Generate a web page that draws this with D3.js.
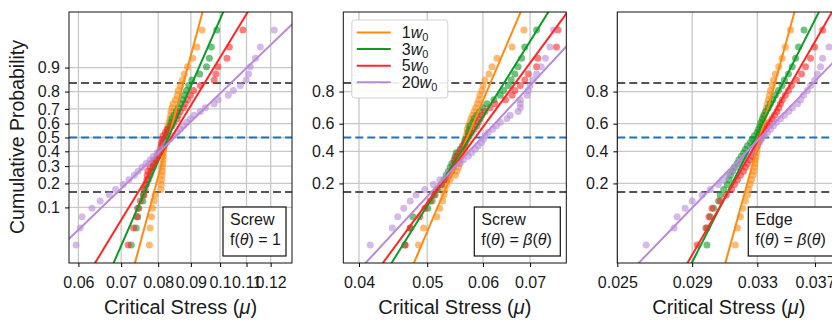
<!DOCTYPE html>
<html>
<head>
<meta charset="utf-8">
<script src="https://cdn.jsdelivr.net/npm/d3@7"></script>
<style>
  body { margin: 0; background: #fff; }
  svg { display: block; }
  text { font-family: "Liberation Sans", Arial, Helvetica, sans-serif; fill: #1a1a1a; }
</style>
</head>
<body>
<svg id="chart" width="832" height="320"></svg>
<script>
// Loop widths (multiples of w0) and their colours
const widthMultiples = ["1", "3", "5", "20"];
const seriesColors = ["#ff8a12", "#0d9a26", "#ff2626", "#b98ad9"];

// Probability ticks
const probTicksFull = [0.1, 0.2, 0.3, 0.4, 0.5, 0.6, 0.7, 0.8, 0.9];
const probTicksEven = [0.2, 0.4, 0.6, 0.8];

// Stress ticks for each panel
const screwFlatTicks = [0.06, 0.07, 0.08, 0.09, 0.10, 0.11, 0.12];
const screwFlatTickLabels = ["0.06", "0.07", "0.08", "0.09", "0.1", "0.11", "0.12"];
const screwBetaTicks = [0.04, 0.05, 0.06, 0.07];
const screwBetaTickLabels = ["0.04", "0.05", "0.06", "0.07"];
const edgeBetaTicks = [0.025, 0.029, 0.033, 0.037];
const edgeBetaTickLabels = ["0.025", "0.029", "0.033", "0.037"];

// Log-normal fits: median critical stress and log standard deviation per width
const screwFlatMedian = [0.0831, 0.0830, 0.0839, 0.0848];
const screwFlatSigma = [0.053, 0.0859, 0.1197, 0.2044];
const screwBetaMedian = [0.0570, 0.0575, 0.0585, 0.0598];
const screwBetaSigma = [0.0759, 0.1115, 0.1313, 0.1655];
const edgeBetaMedian = [0.03317, 0.03287, 0.03316, 0.0332];
const edgeBetaSigma = [0.0298, 0.0548, 0.0623, 0.1049];

// Sorted critical stresses, screw dislocation, f(theta) = 1
const screwFlat1w0 = [0.0775,0.0777,0.0781,0.0784,0.0788,0.0791,0.0808,0.0809,0.0810,0.0811,0.0812,0.0812,0.0813,0.0814,0.0815,0.0815,0.0816,0.0818,0.0820,0.0822,0.0823,0.0826,0.0828,0.0829,0.0832,0.0835,0.0837,0.0838,0.0841,0.0844,0.0851,0.0857,0.0860,0.0866,0.0873,0.0879,0.0889,0.0906,0.0920,0.0937];
const screwFlat3w0 = [0.0726,0.0739,0.0743,0.0746,0.0757,0.0758,0.0760,0.0766,0.0772,0.0777,0.0780,0.0786,0.0788,0.0794,0.0799,0.0803,0.0809,0.0811,0.0814,0.0817,0.0823,0.0826,0.0829,0.0835,0.0838,0.0841,0.0847,0.0854,0.0860,0.0866,0.0873,0.0879,0.0886,0.0893,0.0903,0.0929,0.0952,0.0962,0.0969,0.0988];
const screwFlat5w0 = [0.0718,0.0732,0.0741,0.0743,0.0750,0.0760,0.0763,0.0766,0.0768,0.0769,0.0771,0.0777,0.0786,0.0791,0.0797,0.0803,0.0806,0.0809,0.0810,0.0813,0.0814,0.0821,0.0826,0.0841,0.0847,0.0856,0.0860,0.0866,0.0876,0.0882,0.0889,0.0899,0.0909,0.0931,0.0979,0.0985,0.0992,0.1025,0.1034,0.1086];
const screwFlat20w0 = [0.0595,0.0604,0.0608,0.0630,0.0649,0.0671,0.0686,0.0705,0.0720,0.0734,0.0744,0.0755,0.0766,0.0777,0.0786,0.0797,0.0809,0.0818,0.0826,0.0835,0.0845,0.0857,0.0866,0.0876,0.0887,0.0898,0.0911,0.0931,0.0948,0.0979,0.0993,0.1030,0.1049,0.1076,0.1099,0.1108,0.1115,0.1136,0.1156,0.1216];

// Sorted critical stresses, screw dislocation, f(theta) = beta(theta)
const screwBeta1w0 = [0.0486,0.0494,0.0516,0.0521,0.0526,0.0528,0.0530,0.0533,0.0539,0.0548,0.0551,0.0554,0.0555,0.0557,0.0559,0.0563,0.0565,0.0566,0.0566,0.0568,0.0568,0.0570,0.0570,0.0572,0.0575,0.0577,0.0580,0.0583,0.0586,0.0589,0.0592,0.0594,0.0598,0.0600,0.0604,0.0612,0.0618,0.0628,0.0660,0.0686];
const screwBeta3w0 = [0.0465,0.0473,0.0477,0.0501,0.0508,0.0513,0.0518,0.0524,0.0528,0.0532,0.0536,0.0539,0.0542,0.0546,0.0548,0.0550,0.0557,0.0561,0.0565,0.0566,0.0572,0.0572,0.0574,0.0575,0.0581,0.0583,0.0588,0.0594,0.0600,0.0608,0.0622,0.0635,0.0642,0.0652,0.0658,0.0666,0.0673,0.0681,0.0688,0.0715];
const screwBeta5w0 = [0.0465,0.0473,0.0488,0.0496,0.0505,0.0511,0.0516,0.0523,0.0533,0.0537,0.0541,0.0544,0.0546,0.0548,0.0551,0.0554,0.0559,0.0563,0.0566,0.0570,0.0574,0.0578,0.0583,0.0588,0.0591,0.0594,0.0598,0.0604,0.0614,0.0624,0.0646,0.0660,0.0666,0.0678,0.0688,0.0696,0.0715,0.0718,0.0763,0.0767];
const screwBeta20w0 = [0.0415,0.0446,0.0454,0.0463,0.0473,0.0482,0.0496,0.0510,0.0521,0.0533,0.0539,0.0545,0.0557,0.0563,0.0572,0.0578,0.0585,0.0591,0.0597,0.0601,0.0604,0.0610,0.0619,0.0627,0.0635,0.0649,0.0656,0.0673,0.0678,0.0678,0.0678,0.0693,0.0696,0.0700,0.0707,0.0715,0.0726,0.0736,0.0747,0.0756];

// Sorted critical stresses, edge dislocation, f(theta) = beta(theta)
const edgeBeta1w0 = [0.03159,0.03172,0.03191,0.03207,0.03223,0.03236,0.03244,0.03252,0.03262,0.03272,0.03277,0.03281,0.03285,0.03288,0.03291,0.03294,0.03298,0.03301,0.03304,0.03307,0.03310,0.03312,0.03318,0.03327,0.03334,0.03340,0.03347,0.03354,0.03360,0.03367,0.03374,0.03380,0.03387,0.03398,0.03407,0.03420,0.03443,0.03466,0.03489,0.03524];
const edgeBeta3w0 = [0.02986,0.02986,0.03006,0.03026,0.03056,0.03066,0.03087,0.03108,0.03119,0.03128,0.03141,0.03153,0.03170,0.03182,0.03197,0.03212,0.03223,0.03236,0.03255,0.03268,0.03281,0.03298,0.03307,0.03317,0.03323,0.03333,0.03342,0.03356,0.03373,0.03387,0.03403,0.03420,0.03441,0.03466,0.03482,0.03510,0.03536,0.03560,0.03581,0.03620];
const edgeBeta5w0 = [0.02929,0.02980,0.02998,0.03016,0.03066,0.03103,0.03135,0.03153,0.03172,0.03191,0.03210,0.03223,0.03236,0.03249,0.03262,0.03275,0.03285,0.03298,0.03307,0.03320,0.03327,0.03342,0.03354,0.03367,0.03380,0.03398,0.03414,0.03431,0.03444,0.03455,0.03468,0.03489,0.03510,0.03531,0.03566,0.03602,0.03631,0.03667,0.03697,0.03756];
const edgeBeta20w0 = [0.02647,0.02798,0.02815,0.02860,0.02900,0.02958,0.03006,0.03054,0.03079,0.03109,0.03141,0.03172,0.03191,0.03217,0.03236,0.03262,0.03281,0.03298,0.03314,0.03327,0.03347,0.03367,0.03387,0.03407,0.03427,0.03455,0.03482,0.03512,0.03538,0.03574,0.03595,0.03617,0.03644,0.03668,0.03697,0.03717,0.03741,0.03756,0.03804,0.03880];

// Inverse of the standard normal CDF (Acklam's rational approximation)
function probit(p) {
  const a = [-3.969683028665376e+01, 2.209460984245205e+02, -2.759285104469687e+02, 1.383577518672690e+02, -3.066479806614716e+01, 2.506628277459239e+00];
  const b = [-5.447609879822406e+01, 1.615858368580409e+02, -1.556989798598866e+02, 6.680131188771972e+01, -1.328068155288572e+01];
  const c = [-7.784894002430293e-03, -3.223964580411365e-01, -2.400758277161838e+00, -2.549732539343734e+00, 4.374664141464968e+00, 2.938163982698783e+00];
  const d = [7.784695709041462e-03, 3.224671290700398e-01, 2.445134137142996e+00, 3.754408661907416e+00];
  const pl = 0.02425;
  let q, r;
  if (p < pl) {
    q = Math.sqrt(-2 * Math.log(p));
    return (((((c[0]*q+c[1])*q+c[2])*q+c[3])*q+c[4])*q+c[5]) / ((((d[0]*q+d[1])*q+d[2])*q+d[3])*q+1);
  }
  if (p > 1 - pl) {
    q = Math.sqrt(-2 * Math.log(1 - p));
    return -(((((c[0]*q+c[1])*q+c[2])*q+c[3])*q+c[4])*q+c[5]) / ((((d[0]*q+d[1])*q+d[2])*q+d[3])*q+1);
  }
  q = p - 0.5; r = q * q;
  return (((((a[0]*r+a[1])*r+a[2])*r+a[3])*r+a[4])*r+a[5])*q / (((((b[0]*r+b[1])*r+b[2])*r+b[3])*r+b[4])*r+1);
}

const panels = [
  { series: [screwFlat1w0, screwFlat3w0, screwFlat5w0, screwFlat20w0], median: screwFlatMedian, sigma: screwFlatSigma,
    domain: [0.058, 0.1296], ticks: screwFlatTicks, tickLabels: screwFlatTickLabels, probTicks: probTicksFull,
    boxLines: [["Screw"], ["f(", ["θ", "i"], ") = 1"]], boxW: 63, legend: false },
  { series: [screwBeta1w0, screwBeta3w0, screwBeta5w0, screwBeta20w0], median: screwBetaMedian, sigma: screwBetaSigma,
    domain: [0.038, 0.0788], ticks: screwBetaTicks, tickLabels: screwBetaTickLabels, probTicks: probTicksEven,
    boxLines: [["Screw"], ["f(", ["θ", "i"], ") = ", ["β", "i"], "(", ["θ", "i"], ")"]], boxW: 86, legend: true },
  { series: [edgeBeta1w0, edgeBeta3w0, edgeBeta5w0, edgeBeta20w0], median: edgeBetaMedian, sigma: edgeBetaSigma,
    domain: [0.025, 0.0389], ticks: edgeBetaTicks, tickLabels: edgeBetaTickLabels, probTicks: probTicksEven,
    boxLines: [["Edge"], ["f(", ["θ", "i"], ") = ", ["β", "i"], "(", ["θ", "i"], ")"]], boxW: 86, legend: false }
];

const svg = d3.select("#chart");
const panelLeft = [69, 343.3, 617.3];
const panelW = 223, plotTop = 12, plotBottom = 263;
const zMax = 2.3;
const y = d3.scaleLinear().domain([-zMax, zMax]).range([plotBottom, plotTop]);
const tickFont = 16;

panels.forEach((pan, k) => {
  const left = panelLeft[k];
  const x = d3.scaleLog().domain(pan.domain).range([left, left + panelW]);
  const g = svg.append("g");
  const clipId = "clip" + k;
  svg.append("clipPath").attr("id", clipId)
    .append("rect").attr("x", left).attr("y", plotTop).attr("width", panelW).attr("height", plotBottom - plotTop);

  // grid
  g.append("g").selectAll("line").data(pan.ticks).join("line")
    .attr("x1", d => x(d)).attr("x2", d => x(d)).attr("y1", plotTop).attr("y2", plotBottom)
    .attr("stroke", "#c8c8c8").attr("stroke-width", 1.3);
  g.append("g").selectAll("line").data(pan.probTicks).join("line")
    .attr("x1", left).attr("x2", left + panelW).attr("y1", d => y(probit(d))).attr("y2", d => y(probit(d)))
    .attr("stroke", "#c8c8c8").attr("stroke-width", 1.3);

  // reference levels: median and one standard deviation either side
  const refs = [{ z: 1, c: "#555555" }, { z: 0, c: "#1a73c6" }, { z: -1, c: "#555555" }];
  g.append("g").selectAll("line").data(refs).join("line")
    .attr("x1", left).attr("x2", left + panelW).attr("y1", d => y(d.z)).attr("y2", d => y(d.z))
    .attr("stroke", d => d.c).attr("stroke-width", 2).attr("stroke-dasharray", "8,4");

  // empirical cumulative probabilities
  const pts = g.append("g").attr("clip-path", `url(#${clipId})`);
  pan.series.forEach((vals, s) => {
    const n = vals.length;
    pts.append("g").selectAll("circle").data(vals).join("circle")
      .attr("cx", d => x(d)).attr("cy", (d, i) => y(probit((i + 1) / (n + 1))))
      .attr("r", 3.5).attr("fill", seriesColors[s]).attr("fill-opacity", 0.6);
  });

  // log-normal fit lines
  const fits = g.append("g").attr("clip-path", `url(#${clipId})`);
  pan.series.forEach((vals, s) => {
    const zs = [-3, 3];
    fits.append("line")
      .attr("x1", x(pan.median[s] * Math.exp(pan.sigma[s] * zs[0])))
      .attr("y1", y(zs[0]))
      .attr("x2", x(pan.median[s] * Math.exp(pan.sigma[s] * zs[1])))
      .attr("y2", y(zs[1]))
      .attr("stroke", seriesColors[s]).attr("stroke-width", 2);
  });

  // frame
  g.append("rect").attr("x", left).attr("y", plotTop).attr("width", panelW).attr("height", plotBottom - plotTop)
    .attr("fill", "none").attr("stroke", "#111").attr("stroke-width", 1);

  // x axis
  const xAxis = d3.axisBottom(x).tickValues(pan.ticks).tickFormat((d, i) => pan.tickLabels[i]).tickSize(4).tickPadding(10);
  const xa = g.append("g").attr("transform", `translate(0,${plotBottom})`).call(xAxis);
  xa.select(".domain").remove();
  xa.selectAll("text").attr("font-size", tickFont).attr("fill", "#1a1a1a").attr("font-family", "Liberation Sans, Arial, sans-serif");

  // y axis
  const yAxis = d3.axisLeft(y).tickValues(pan.probTicks.map(probit))
    .tickFormat((d, i) => String(pan.probTicks[i])).tickSize(4).tickPadding(5);
  const ya = g.append("g").attr("transform", `translate(${left},0)`).call(yAxis);
  ya.select(".domain").remove();
  ya.selectAll("text").attr("font-size", tickFont).attr("fill", "#1a1a1a").attr("font-family", "Liberation Sans, Arial, sans-serif");

  // x label
  const xl = g.append("text").attr("x", left + panelW / 2).attr("y", 314).attr("text-anchor", "middle").attr("font-size", 20);
  xl.append("tspan").text("Critical Stress (");
  xl.append("tspan").attr("font-style", "italic").text("μ");
  xl.append("tspan").text(")");

  // annotation box
  const bw = pan.boxW, bh = 49;
  const bx = left + panelW - 6 - bw, by = plotBottom - 7 - bh;
  g.append("rect").attr("x", bx).attr("y", by).attr("width", bw).attr("height", bh)
    .attr("fill", "#fff").attr("stroke", "#111").attr("stroke-width", 1.2);
  pan.boxLines.forEach((parts, li) => {
    const t = g.append("text").attr("x", bx + 7).attr("y", by + 17.5 + li * 20).attr("font-size", 16);
    parts.forEach(p => {
      if (Array.isArray(p)) t.append("tspan").attr("font-style", "italic").text(p[0]);
      else t.append("tspan").text(p);
    });
  });

  // legend
  if (pan.legend) {
    const lx = left + 8.5, ly = 20;
    const lg = g.append("g");
    lg.append("rect").attr("x", lx).attr("y", ly).attr("width", 96).attr("height", 78).attr("rx", 3)
      .attr("fill", "#fff").attr("fill-opacity", 0.9).attr("stroke", "#d0d0d0").attr("stroke-width", 1);
    widthMultiples.forEach((m, i) => {
      const rowY = ly + 12.5 + i * 16.6;
      lg.append("line").attr("x1", lx + 5).attr("x2", lx + 39).attr("y1", rowY).attr("y2", rowY)
        .attr("stroke", seriesColors[i]).attr("stroke-width", 2);
      const t = lg.append("text").attr("x", lx + 50).attr("y", rowY + 5.5).attr("font-size", 16);
      t.append("tspan").text(m);
      t.append("tspan").attr("font-style", "italic").text("w");
      t.append("tspan").attr("font-size", 11).attr("dy", 3).text("0");
    });
  }
});

// shared y label
svg.append("text").attr("transform", "translate(24,137) rotate(-90)").attr("text-anchor", "middle")
  .attr("font-size", 19.5).text("Cumulative Probability");
</script>
</body>
</html>
